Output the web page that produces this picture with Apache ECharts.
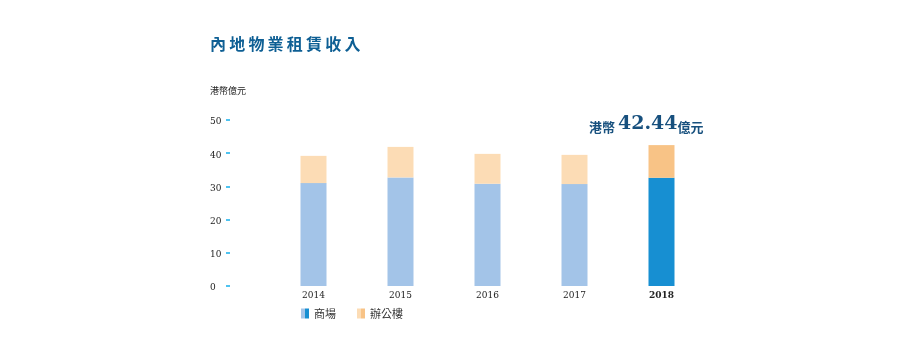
<!DOCTYPE html>
<html>
<head>
<meta charset="utf-8">
<script src="https://cdn.jsdelivr.net/npm/echarts@6/dist/echarts.min.js"></script>
<style>
html,body{margin:0;padding:0;background:#fff;}
#main{width:912px;height:353px;}
</style>
</head>
<body>
<div id="main"></div>
<script>
// 年份
var years = ['2014', '2015', '2016', '2017', '2018'];
// 商場 / 辦公樓 (港幣億元)
var mallValues = [31.0, 32.7, 30.8, 30.7, 32.6];
var officeValues = [8.2, 9.2, 9.0, 8.8, 9.84];
var yTicks = [0, 10, 20, 30, 40, 50];
var totalLabel = '42.44';

var serif = '"DejaVu Serif", "Liberation Serif", serif';
var cjk = '"Noto Sans CJK TC", "Noto Sans CJK SC", sans-serif';

function split(c1, c2){
	return {
		type: 'linear', x: 0, y: 0, x2: 1, y2: 0,
		colorStops: [
			{offset: 0, color: c1}, {offset: 0.5, color: c1},
			{offset: 0.5, color: c2}, {offset: 1, color: c2}
		]
	};
}

var last = years.length - 1;
var chart = echarts.init(document.getElementById('main'));
var option = {
	animation: false,
	title: [{
		text: '內地物業租賃收入'.split('').join('\u2009'),
		left: 210, top: 36, padding: 0,
		textStyle: {fontFamily: cjk, fontSize: 16, fontWeight: 'bold', color: '#0e5f94'}
	}, {
		text: '港幣億元',
		left: 210, top: 86, padding: 0,
		textStyle: {fontFamily: cjk, fontSize: 9, fontWeight: 'normal', color: '#222'}
	}, {
		text: '{a|港幣 }{b|' + totalLabel + '}{a|億元}',
		left: 589, top: 112, padding: 0,
		textStyle: {
			rich: {
				a: {fontFamily: cjk, fontSize: 13, fontWeight: 'bold', color: '#17507e', verticalAlign: 'bottom', lineHeight: 22},
				b: {fontFamily: '"DejaVu Serif", serif', fontSize: 19, fontWeight: 'bold', color: '#17507e', verticalAlign: 'bottom', lineHeight: 22}
			}
		}
	}],
	legend: {
		left: 301, top: 308, padding: 0,
		itemWidth: 8, itemHeight: 10, itemGap: 21,
		icon: 'rect',
		textStyle: {fontFamily: cjk, fontSize: 11, color: '#333'},
		data: [
			{name: '商場', itemStyle: {color: split('#a3c4e8', '#178fd2')}},
			{name: '辦公樓', itemStyle: {color: split('#fcdcb5', '#f8c386')}}
		]
	},
	grid: {left: 270, right: 207, top: 120, bottom: 67},
	xAxis: {
		type: 'category',
		data: years,
		axisLine: {show: false},
		axisTick: {show: false},
		axisLabel: {
			margin: 5,
			fontFamily: serif, fontSize: 9, color: '#222',
			formatter: function(v, i){ return i === last ? '{b|' + v + '}' : v; },
			rich: {b: {fontFamily: serif, fontSize: 9, fontWeight: 'bold', color: '#222'}}
		}
	},
	yAxis: {
		type: 'value',
		min: yTicks[0], max: yTicks[yTicks.length - 1], interval: 10,
		offset: 40,
		splitLine: {show: false},
		axisLine: {show: false},
		axisTick: {show: true, length: 4, lineStyle: {color: '#4fc3f0', width: 2}},
		axisLabel: {
			align: 'left', margin: 20,
			verticalAlign: 'top', lineHeight: 4,
			fontFamily: serif, fontSize: 9, color: '#222'
		}
	},
	series: [{
		name: '商場',
		type: 'bar',
		stack: 'total',
		barWidth: 26,
		itemStyle: {color: '#a3c4e8'},
		data: mallValues.map(function(v, i){
			return i === last ? {value: v, itemStyle: {color: '#178fd2'}} : v;
		})
	}, {
		name: '辦公樓',
		type: 'bar',
		stack: 'total',
		barWidth: 26,
		itemStyle: {color: '#fcdcb5'},
		data: officeValues.map(function(v, i){
			return i === last ? {value: v, itemStyle: {color: '#f8c386'}} : v;
		})
	}]
};
chart.setOption(option);
</script>
</body>
</html>
